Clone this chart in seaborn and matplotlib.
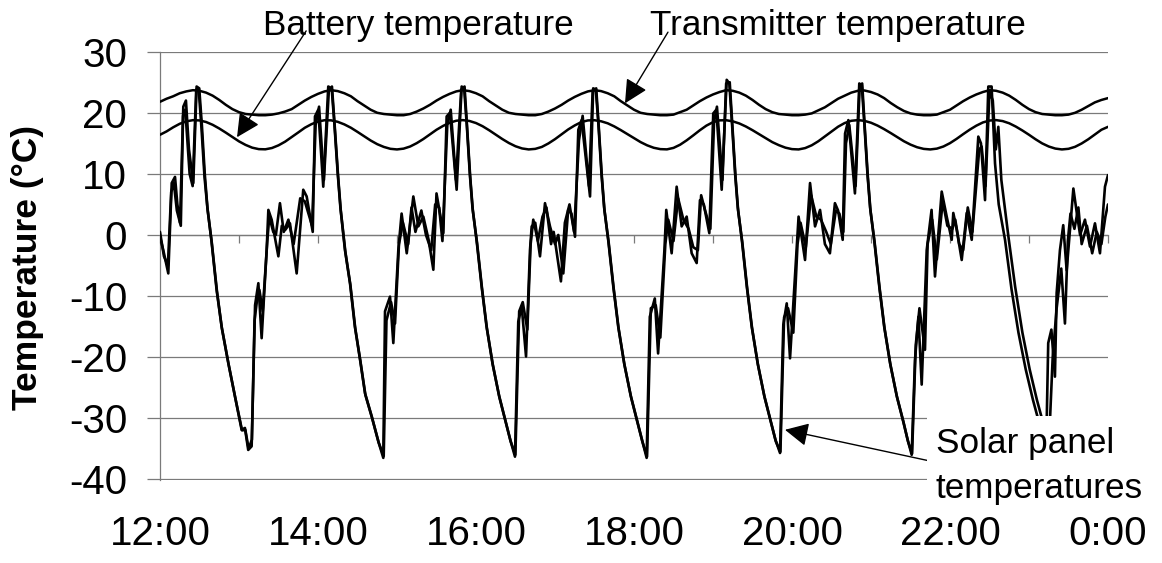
import matplotlib
matplotlib.use("Agg")
import matplotlib.pyplot as plt
import seaborn as sns
import pandas as pd
from matplotlib.patches import Rectangle

# ---------------- data (minutes after 12:00) ----------------
smooth_minutes = list(range(0, 721, 5))

transmitter_temp = [
    21.8, 22.3, 22.7, 23.2, 23.5, 23.7, 23.6, 23.3, 22.8, 22.1, 21.3, 20.6,
    20.1, 19.8, 19.7, 19.6, 19.6, 19.7, 19.9, 20.2, 20.6, 21.3, 22.0, 22.6,
    23.1, 23.5, 23.7, 23.55, 23.2, 22.7, 21.9, 21.2, 20.5, 20.0, 19.8, 19.7,
    19.6, 19.6, 19.8, 20.2, 20.7, 21.3, 22.0, 22.6, 23.1, 23.5, 23.7, 23.55,
    23.2, 22.7, 21.9, 21.2, 20.5, 20.0, 19.8, 19.7, 19.6, 19.6, 19.8, 20.2,
    20.7, 21.3, 22.0, 22.6, 23.1, 23.5, 23.7, 23.55, 23.2, 22.7, 21.9, 21.2,
    20.5, 20.0, 19.8, 19.7, 19.6, 19.6, 19.7, 20.1, 20.5, 21.2, 21.9, 22.5,
    23.0, 23.4, 23.7, 23.6, 23.3, 22.8, 22.1, 21.3, 20.6, 20.1, 19.8, 19.7,
    19.6, 19.6, 19.7, 19.9, 20.4, 20.9, 21.6, 22.3, 22.8, 23.3, 23.6, 23.65,
    23.4, 23.0, 22.4, 21.6, 20.9, 20.3, 19.9, 19.7, 19.6, 19.6, 19.7, 20.1,
    20.5, 21.2, 21.9, 22.5, 23.0, 23.4, 23.7, 23.6, 23.3, 22.8, 22.1, 21.3,
    20.6, 20.1, 19.8, 19.7, 19.6, 19.6, 19.7, 20.0, 20.5, 21.1, 21.7, 22.1,
    22.4,
]

battery_temp = [
    16.4, 16.95, 17.62, 18.2, 18.6, 18.79, 18.75, 18.49, 18.03, 17.43, 16.75, 16.03,
    15.32, 14.74, 14.29, 14.05, 14.02, 14.23, 14.67, 15.27, 16.02, 16.78, 17.55, 18.13,
    18.57, 18.78, 18.76, 18.52, 18.1, 17.55, 16.87, 16.16, 15.46, 14.86, 14.41, 14.1,
    14.0, 14.13, 14.48, 15.03, 15.7, 16.46, 17.22, 17.85, 18.37, 18.7, 18.8, 18.66,
    18.32, 17.8, 17.14, 16.42, 15.7, 15.05, 14.52, 14.16, 14.0, 14.09, 14.41, 14.98,
    15.68, 16.47, 17.27, 17.93, 18.48, 18.75, 18.78, 18.61, 18.28, 17.77, 17.16, 16.5,
    15.83, 15.2, 14.67, 14.27, 14.05, 14.01, 14.25, 14.77, 15.49, 16.3, 17.14, 17.9,
    18.46, 18.76, 18.78, 18.6, 18.25, 17.75, 17.15, 16.5, 15.84, 15.2, 14.7, 14.29,
    14.05, 14.0, 14.22, 14.68, 15.34, 16.14, 16.96, 17.72, 18.32, 18.69, 18.8, 18.68,
    18.37, 17.9, 17.32, 16.68, 16.0, 15.34, 14.79, 14.36, 14.09, 14.0, 14.13, 14.48,
    15.03, 15.73, 16.5, 17.24, 17.89, 18.42, 18.73, 18.8, 18.64, 18.28, 17.74, 17.1,
    16.4, 15.66, 14.99, 14.48, 14.14, 14.0, 14.1, 14.43, 14.98, 15.66, 16.45, 17.22,
    17.7,
]

solar_a_minutes = [
    0, 2.5, 6.3, 8.9, 11.4, 13.2, 15.2, 17.7, 19.7, 22.0, 25.3, 27.8,
    29.8, 31.8, 34.0, 36.0, 39.0, 43.0, 46.8, 51.9, 57.0, 62.0, 64.5, 67.0,
    69.6, 71.4, 72.2, 74.7, 77.2, 81.0,
    82.3, 84.8, 89.9, 92.5, 95.0, 98.7, 103.8, 108.8, 111.4, 116.0, 117.7, 120.2, 124.0, 127.8, 130.4,
    132.5, 135.0, 137.0, 140.5, 144.3, 148.0, 152.0, 155.7, 160.8, 165.8, 169.6,
    170.9, 174.7, 177.2, 181.0,
    183.5, 187.4, 192.4, 196.2, 200.0, 204.0, 207.6, 210.0, 215.2, 217.7, 220.2, 225.3, 229.1, 231.0,
    233.0, 235.3, 237.3, 240.5, 244.3, 248.0, 252.5, 257.5, 262.5, 266.0, 269.6,
    272.1, 274.7, 278.0, 281.0,
    282.3, 285.0, 288.6, 292.4, 296.2, 300.0, 302.5, 306.3, 310.0, 312.5, 315.2, 317.7, 320.2, 326.6, 329.0, 331.0,
    333.0, 335.3, 337.3, 340.5, 344.3, 348.0, 352.5, 357.5, 362.5, 366.0, 369.6,
    372.0, 375.8, 378.3, 383.1,
    384.5, 388.6, 392.4, 396.2, 400.0, 403.8, 407.6, 410.1, 413.0, 417.2, 420.2, 422.5, 426.6, 430.4, 432.4,
    434.5, 436.8, 438.8, 442.0, 445.7, 449.4, 453.9, 458.9, 463.9, 467.4, 470.9,
    473.4, 476.0, 478.5, 483.5,
    485.0, 489.9, 493.7, 497.5, 501.3, 505.0, 508.8, 512.6, 515.0, 518.5, 520.3, 522.8, 527.8, 531.1, 533.0,
    535.0, 537.3, 539.3, 542.5, 546.3, 550.0, 554.5, 559.5, 564.5, 567.8, 570.9,
    573.4, 576.0, 578.5, 582.3,
    586.0, 588.6, 593.7, 597.5, 601.3, 602.5, 605.0, 608.9, 612.7, 616.5, 621.5, 623.5, 626.6, 629.1, 631.6,
    634.2, 637.0, 641.8, 646.8, 652.0, 657.5, 663.0, 668.0, 671.0,
    673.4, 674.6, 677.0, 679.7, 681.0, 683.5,
    686.0, 688.6, 693.7, 696.3, 698.8, 702.5, 706.3, 710.1, 713.9, 717.7, 720.0,
]
solar_a_temp = [
    -0.3, -2.5, -6.3, 8.5, 9.5, 5.0, 2.0, 21.0, 22.0, 14.0, 8.5, 24.3,
    24.0, 18.0, 10.0, 4.5, -0.8, -9.0, -15.0, -21.0, -26.5, -31.9, -31.6, -35.2,
    -34.6, -18.8, -11.5, -7.9, -16.9, -2.5,
    4.1, 2.5, -3.5, 1.5, 0.8, 1.9, -6.3, 7.4, 6.3, 0.5, 19.4, 20.5, 7.9, 24.3, 24.0,
    18.0, 10.0, 4.5, -2.5, -7.9, -15.0, -20.5, -25.9, -29.7, -33.8, -36.5,
    -12.5, -10.1, -17.7, -2.5,
    3.5, -3.0, 6.3, 1.4, 3.0, -0.8, -5.7, 6.8, 0.3, 19.4, 20.0, 7.4, 24.3, 24.0,
    18.0, 10.0, 4.5, -1.0, -8.5, -15.0, -21.0, -26.3, -30.5, -33.5, -36.3,
    -14.2, -11.7, -19.9, -2.5,
    1.4, 2.0, -3.5, 5.2, 1.4, -1.5, 0.0, -6.3, 4.1, 3.5, -0.3, 17.2, 18.8, 6.3, 24.0, 23.8,
    18.0, 10.0, 4.5, -1.0, -8.5, -15.0, -21.0, -26.3, -30.5, -33.5, -36.5,
    -13.4, -10.4, -19.4, -2.5,
    4.1, -3.0, 7.9, 1.4, 3.0, -3.0, -4.6, 5.7, 5.0, 0.3, 19.9, 20.5, 7.4, 25.4, 24.8,
    18.0, 10.0, 4.5, -1.0, -8.5, -15.0, -21.0, -26.3, -30.5, -33.5, -35.7,
    -14.7, -11.2, -20.2, -2.5,
    3.0, -4.1, 8.5, 1.4, 4.1, -1.5, -3.0, 5.2, 4.0, -0.8, 16.6, 18.8, 6.8, 24.8, 24.5,
    18.0, 10.0, 4.5, -1.0, -8.5, -15.0, -21.0, -26.3, -30.5, -33.5, -36.0,
    -20.5, -13.4, -24.5, -2.5,
    4.1, -6.8, 7.1, 3.0, -0.8, 3.6, 1.0, -4.1, 3.6, -0.8, 16.1, 15.0, 5.7, 24.3, 24.3,
    11.7, 5.0, -0.8, -9.0, -16.0, -22.0, -27.0, -31.0, -33.5,
    -31.0, -17.7, -15.5, -23.2, -9.5, -2.5,
    1.6, -5.8, 7.6, 3.6, 0.0, 2.5, -1.9, 1.9, -3.0, 7.9, 9.8,
]

solar_b_minutes = [
    0, 3.0, 6.0, 8.5, 10.5, 12.8, 15.8, 17.5, 19.2, 22.5, 24.8, 27.5,
    29.5, 31.5, 33.8, 36.2, 39.3, 43.3, 47.0, 52.2, 57.3, 62.3, 64.8, 67.3,
    69.8, 71.8, 73.5, 75.5, 78.0, 81.5,
    83.0, 86.0, 88.0, 91.1, 94.0, 97.5, 101.5, 106.5, 110.0, 115.5, 118.2, 120.8, 124.5, 128.2, 130.6,
    132.8, 135.3, 137.3, 140.8, 144.6, 148.3, 152.3, 156.0, 161.1, 166.1, 169.9,
    172.0, 175.5, 178.5, 181.5,
    184.5, 188.5, 191.0, 194.0, 198.5, 202.0, 206.0, 209.0, 212.0, 214.5, 218.2, 220.8, 224.8, 228.8, 231.3,
    233.3, 235.6, 237.6, 240.8, 244.6, 248.3, 252.8, 257.8, 262.8, 266.3, 269.9,
    272.8, 275.5, 279.0, 281.5,
    283.5, 287.0, 290.5, 293.5, 297.0, 299.0, 304.5, 307.5, 311.0, 314.5, 318.2, 321.0, 325.8, 328.6, 331.3,
    333.3, 335.6, 337.6, 340.8, 344.6, 348.3, 352.8, 357.8, 362.8, 366.3, 369.9,
    372.8, 376.5, 380.0, 383.8,
    386.0, 390.0, 393.5, 397.5, 401.5, 405.0, 408.5, 411.0, 414.0, 418.0, 420.8, 423.0, 427.2, 430.0, 432.7,
    434.8, 437.1, 439.1, 442.3, 446.0, 449.7, 454.2, 459.2, 464.2, 467.7, 471.2,
    474.0, 477.0, 481.0, 484.2,
    486.5, 490.5, 494.5, 498.5, 502.0, 506.0, 509.5, 513.3, 516.0, 519.0, 521.0, 523.5, 528.3, 531.4, 533.3,
    535.3, 537.6, 539.6, 542.8, 546.6, 550.3, 554.8, 559.8, 564.8, 568.1, 571.2,
    574.0, 576.8, 581.0, 583.0,
    586.5, 590.0, 594.5, 598.0, 601.8, 604.0, 607.0, 610.0, 613.5, 617.0, 622.2, 624.0, 627.0, 630.0, 632.5, 634.8, 636.7,
    639.0, 644.5, 649.5, 655.0, 660.5, 666.0, 671.0, 674.0,
    676.0, 678.0, 681.0, 684.5, 687.3, 689.5,
    691.5, 694.5, 697.5, 700.0, 704.0, 708.0, 711.5, 715.0, 718.0, 720.0,
]
solar_b_temp = [
    0.5, -3.5, -5.0, 7.0, 8.5, 4.0, 1.5, 19.5, 20.5, 10.0, 8.0, 23.8,
    23.5, 17.5, 9.5, 4.0, -1.2, -9.3, -15.3, -21.3, -26.8, -32.0, -31.9, -35.0,
    -33.5, -14.0, -11.0, -9.0, -12.5, -1.0,
    3.0, 0.5, 0.0, 5.2, 0.5, 2.5, -1.5, 6.0, 5.5, 1.5, 18.0, 21.0, 9.0, 23.5, 24.3,
    17.5, 9.5, 4.0, -2.8, -8.2, -15.3, -20.8, -26.2, -30.0, -34.0, -36.2,
    -14.0, -11.0, -14.5, -1.5,
    2.0, -1.5, 4.5, 0.5, 4.0, 0.0, -2.5, 5.0, 4.5, -1.0, 18.0, 20.5, 9.0, 23.8, 24.3,
    17.5, 9.5, 4.0, -1.3, -8.8, -15.3, -21.3, -26.6, -30.8, -33.8, -36.0,
    -12.5, -11.0, -15.5, -1.5,
    2.5, -1.0, 3.0, 4.5, -1.5, 0.5, -7.6, 2.0, 5.0, 0.5, 15.5, 19.5, 8.0, 23.5, 24.0,
    17.5, 9.5, 4.0, -1.3, -8.8, -15.3, -21.3, -26.6, -30.8, -33.8, -36.3,
    -12.0, -11.5, -16.8, -1.5,
    2.5, -1.0, 6.0, 2.5, 1.0, -2.0, -2.5, 6.5, 4.0, 1.0, 18.5, 21.0, 9.0, 24.8, 25.0,
    17.5, 9.5, 4.0, -1.3, -8.8, -15.3, -21.3, -26.6, -30.8, -33.8, -35.5,
    -13.5, -12.0, -16.0, -1.5,
    2.0, -2.0, 6.5, 3.0, 2.5, 0.5, -1.5, 4.0, 3.5, 0.5, 15.0, 18.0, 8.0, 24.3, 24.8,
    17.5, 9.5, 4.0, -1.3, -8.8, -15.3, -21.3, -26.6, -30.8, -33.8, -35.8,
    -18.0, -12.0, -18.8, -1.5,
    2.5, -4.0, 5.5, 1.5, 1.0, 2.5, -1.5, -2.5, 4.5, 0.5, 14.0, 14.5, 8.0, 23.5, 22.0, 14.0, 17.7,
    9.0, -0.5, -8.5, -16.0, -22.0, -27.0, -31.0, -33.5,
    -30.0, -20.0, -12.0, -5.5, -14.5, -1.0,
    3.5, 1.0, 4.5, -1.5, 1.5, -3.0, 0.5, -1.5, 3.0, 5.0,
]

hour_ticks = [12, 13, 14, 15, 16, 17, 18, 19, 20, 21, 22, 23, 24]
label_hours = [12, 14, 16, 18, 20, 22, 24]
label_texts = ["12:00", "14:00", "16:00", "18:00", "20:00", "22:00", "0:00"]
y_ticks = [30, 20, 10, 0, -10, -20, -30, -40]

# annotation arrows: (tail hour, tail value) -> (tip hour, tip value)
battery_arrow = [(13.85, 33.4), (12.975, 16.0)]
transmitter_arrow = [(18.43, 33.2), (17.886, 21.55)]
solar_arrow = [(21.725, -36.95), (19.911, -31.9)]

# ---------------- plotting ----------------
sns.set_style("white")
plt.rcParams["font.family"] = ["Liberation Sans", "DejaVu Sans"]
plt.rcParams["text.color"] = "black"
plt.rcParams["xtick.labelcolor"] = "black"
plt.rcParams["ytick.labelcolor"] = "black"

W, H = 1162, 563
fig = plt.figure(figsize=(W / 100, H / 100), dpi=100)
ax = fig.add_axes([160 / W, 1 - 480 / H, 948 / W, (480 - 51.7) / H])

grid_c = "#7a7a7a"


def to_hours(mins):
    return [12 + m / 60.0 for m in mins]


df_s = pd.DataFrame({"h": to_hours(smooth_minutes),
                     "tx": transmitter_temp, "bat": battery_temp})
df_a = pd.DataFrame({"h": to_hours(solar_a_minutes), "v": solar_a_temp})
df_b = pd.DataFrame({"h": to_hours(solar_b_minutes), "v": solar_b_temp})

for d, ycol, lw in [(df_s, "tx", 1.8), (df_s, "bat", 1.8),
                    (df_a, "v", 1.9), (df_b, "v", 1.9)]:
    sns.lineplot(data=d, x="h", y=ycol, ax=ax, color="black", lw=lw,
                 estimator=None, sort=False, zorder=3)

ax.set_xlim(12, 24)
ax.set_ylim(-40.12, 30)
ax.set_xlabel("")
ax.set_ylabel("")

# y axis
ax.set_yticks(y_ticks)
ax.set_yticklabels([str(v) for v in y_ticks])
ax.tick_params(axis="y", direction="out", length=9.5, width=0.9, color=grid_c,
               labelsize=29, pad=14, left=True, labelcolor="black")
ax.yaxis.grid(True, color=grid_c, lw=0.9)
ax.xaxis.grid(False)
ax.set_axisbelow(True)

# x axis through zero
for s in ["top", "right"]:
    ax.spines[s].set_visible(False)
ax.spines["left"].set_color(grid_c)
ax.spines["left"].set_linewidth(0.9)
ax.spines["bottom"].set_position(("data", 0))
ax.spines["bottom"].set_color(grid_c)
ax.spines["bottom"].set_linewidth(0.9)
ax.set_xticks(hour_ticks)
ax.tick_params(axis="x", direction="out", length=5.5, width=0.9, color=grid_c,
               labelbottom=False, bottom=True)

sec = ax.secondary_xaxis(0.0)
sec.set_xticks(label_hours, labels=label_texts)
sec.tick_params(axis="x", length=0, labelsize=29, pad=25, labelcolor="black")
sec.spines["bottom"].set_visible(False)

# y label
fig.text(28 / W, 1 - 267 / H, "Temperature (°C)", rotation=90, ha="center",
         va="center", fontsize=25.5, fontweight="bold", color="black")

# annotations
fig.text(418 / W, 1 - 35 / H, "Battery temperature", ha="center",
         va="baseline", fontsize=25.3, color="black")
fig.text(838 / W, 1 - 35 / H, "Transmitter temperature", ha="center",
         va="baseline", fontsize=25.3, color="black")

arrow_kw = dict(arrowstyle="-|>,head_length=0.6,head_width=0.3",
                mutation_scale=24, color="black", lw=1.0,
                shrinkA=0, shrinkB=0)
for tail, tip in [battery_arrow, transmitter_arrow, solar_arrow]:
    ax.annotate("", xy=tip, xytext=tail, arrowprops=arrow_kw,
                annotation_clip=False, zorder=4)

# white box with solar panel label
fig.add_artist(Rectangle((927 / W, 1 - 508 / H), (W - 927) / W, 92 / H,
                         transform=fig.transFigure, facecolor="white",
                         edgecolor="none", zorder=5))
fig.text(936 / W, 1 - 453 / H, "Solar panel", ha="left", va="baseline",
         fontsize=25.3, zorder=6, color="black")
fig.text(936 / W, 1 - 498 / H, "temperatures", ha="left", va="baseline",
         fontsize=25.3, zorder=6, color="black")

fig.savefig("out.png", dpi=100)
